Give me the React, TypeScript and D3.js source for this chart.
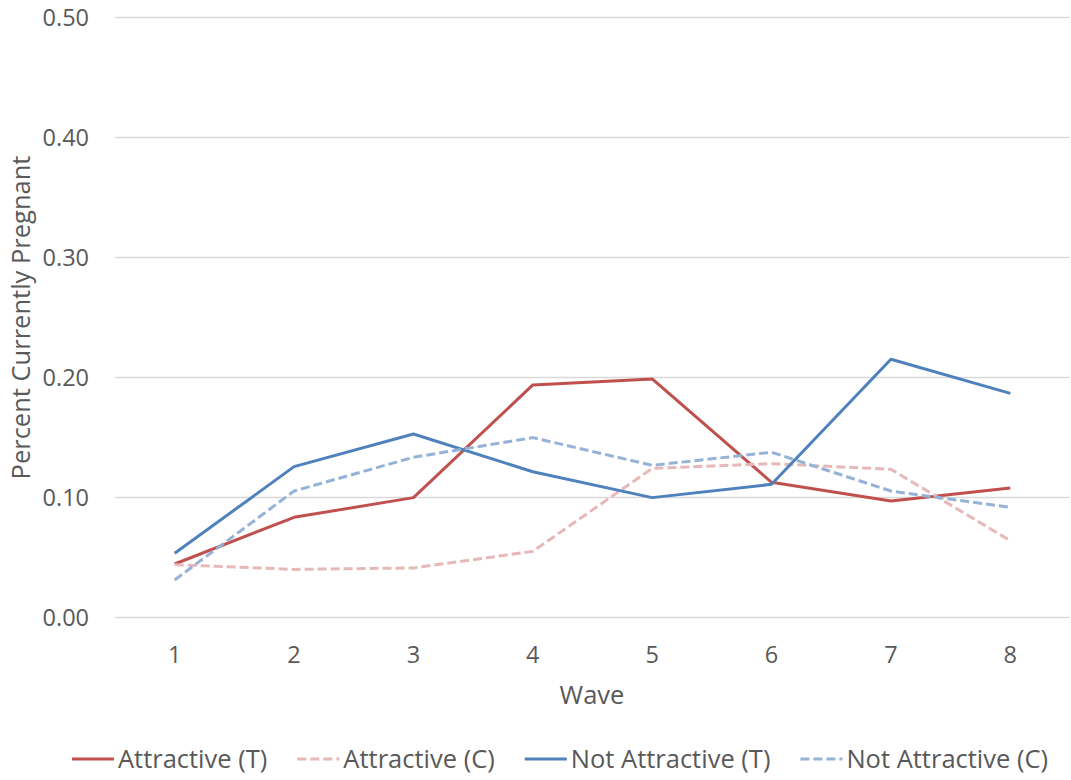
import React, { useEffect, useRef } from "react";
import * as d3 from "d3";

const waves = ["1", "2", "3", "4", "5", "6", "7", "8"];
const attractiveT = [0.0446, 0.0835, 0.0999, 0.1938, 0.1988, 0.1127, 0.0971, 0.1079];
const attractiveC = [0.044, 0.0401, 0.0413, 0.0551, 0.1243, 0.1282, 0.1235, 0.064];
const notAttractiveT = [0.0535, 0.1257, 0.1529, 0.1215, 0.0999, 0.111, 0.2152, 0.1868];
const notAttractiveC = [0.0313, 0.1054, 0.1335, 0.1499, 0.1268, 0.1377, 0.1054, 0.0918];
const yTicks = [0, 0.1, 0.2, 0.3, 0.4, 0.5];

const seriesNames = ["Attractive (T)", "Attractive (C)", "Not Attractive (T)", "Not Attractive (C)"];
const seriesValues = [attractiveT, attractiveC, notAttractiveT, notAttractiveC];
const seriesColors = ["#C0504D", "#E6B9B8", "#4F81BD", "#95B3D7"];
const seriesDashed = [false, true, false, true];

const W = 1071;
const H = 780;
const FONT = "'Open Sans', sans-serif";
const TEXT = "#595959";

export default function App() {
  const ref = useRef<SVGSVGElement>(null);

  useEffect(() => {
    const svg = d3.select(ref.current);
    svg.selectAll("*").remove();

    const x = d3.scaleBand<string>().domain(waves).range([115, 1070]);
    const y = d3.scaleLinear().domain([0, 0.5]).range([617.5, 17.5]);
    const cx = (w: string) => (x(w) as number) + x.bandwidth() / 2;

    // gridlines
    svg
      .append("g")
      .selectAll("line")
      .data(yTicks)
      .join("line")
      .attr("x1", 115)
      .attr("x2", 1070)
      .attr("y1", (d) => y(d))
      .attr("y2", (d) => y(d))
      .attr("stroke", "#D9D9D9")
      .attr("stroke-width", 1.5);

    // y tick labels
    svg
      .append("g")
      .selectAll("text")
      .data(yTicks)
      .join("text")
      .attr("x", 89)
      .attr("y", (d) => y(d))
      .attr("dy", "0.35em")
      .attr("text-anchor", "end")
      .attr("font-family", FONT)
      .attr("font-size", 23.5)
      .attr("fill", TEXT)
      .text((d) => d3.format(".2f")(d));

    // x tick labels
    svg
      .append("g")
      .selectAll("text")
      .data(waves)
      .join("text")
      .attr("x", (d) => cx(d))
      .attr("y", 655)
      .attr("dy", "0.35em")
      .attr("text-anchor", "middle")
      .attr("font-family", FONT)
      .attr("font-size", 23.5)
      .attr("fill", TEXT)
      .text((d) => d);

    // axis titles
    svg
      .append("text")
      .attr("x", 592)
      .attr("y", 695)
      .attr("dy", "0.35em")
      .attr("text-anchor", "middle")
      .attr("font-family", FONT)
      .attr("font-size", 25.5)
      .attr("fill", TEXT)
      .text("Wave");

    svg
      .append("text")
      .attr("transform", `translate(21,${(17.5 + 617.5) / 2}) rotate(-90)`)
      .attr("dy", "0.35em")
      .attr("text-anchor", "middle")
      .attr("font-family", FONT)
      .attr("font-size", 25.5)
      .attr("fill", TEXT)
      .text("Percent Currently Pregnant");

    // lines
    const line = d3
      .line<number>()
      .x((_, i) => cx(waves[i]))
      .y((d) => y(d));

    seriesValues.forEach((vals, k) => {
      svg
        .append("path")
        .attr("d", line(vals) as string)
        .attr("fill", "none")
        .attr("stroke", seriesColors[k])
        .attr("stroke-width", 3)
        .attr("stroke-linejoin", "round")
        .attr("stroke-dasharray", seriesDashed[k] ? "9,4" : null);
    });

    // legend
    const lg = svg.append("g");
    const items: { g: any; w: number }[] = [];
    seriesNames.forEach((name, k) => {
      const g = lg.append("g");
      g.append("line")
        .attr("x1", 0)
        .attr("x2", 42)
        .attr("y1", 0)
        .attr("y2", 0)
        .attr("stroke", seriesColors[k])
        .attr("stroke-width", 3)
        .attr("stroke-dasharray", seriesDashed[k] ? "9,4" : null);
      const t = g
        .append("text")
        .attr("x", 46)
        .attr("y", 0)
        .attr("dy", "0.35em")
        .attr("font-family", FONT)
        .attr("font-size", 25.5)
        .attr("fill", TEXT)
        .text(name);
      const tw = (t.node() as SVGTextElement).getComputedTextLength();
      items.push({ g, w: 46 + tw });
    });
    const gap = 30;
    const total = d3.sum(items, (d) => d.w) + gap * (items.length - 1);
    let pos = 560 - total / 2;
    items.forEach((it) => {
      it.g.attr("transform", `translate(${pos},759)`);
      pos += it.w + gap;
    });
  }, []);

  return (
    <svg
      ref={ref}
      width={W}
      height={H}
      style={{ position: "absolute", left: 0, top: 0, background: "#fff" }}
    />
  );
}
